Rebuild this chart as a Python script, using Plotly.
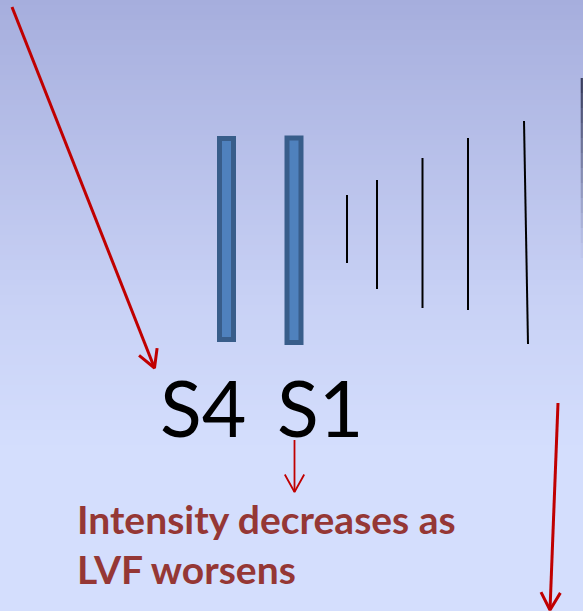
import numpy as np
import plotly.graph_objects as go

W, H = 583, 611

# ---- data ----
bar_labels = ["S4", "S1"]
bar_center = [226.5, 294.0]
bar_top = [138.5, 138.0]
bar_bottom = [339.5, 342.5]

sound_x_top = [347, 377, 422.5, 468, 524]
sound_x_bottom = [347, 377, 422.5, 468, 528]
sound_top = [195, 180, 158, 138, 121]
sound_bottom = [263, 289, 308, 310, 344]

arrow_tail_x = [12, 294.5, 558]
arrow_tail_y = [7, 440, 403]
arrow_tip_x = [154.5, 294.5, 550]
arrow_tip_y = [368, 492, 610]
arrow_width = [3, 1.8, 3]

label_text = ["S4", "S1"]
label_x = [203, 320]
caption_lines = ["Intensity decreases as", "LVF worsens"]

fig = go.Figure()

# background gradient (style)
top_c = np.array([166, 174, 221])
mid_c = np.array([200, 209, 245])
bot_c = np.array([212, 222, 253])
shapes = []
n = 90
for i in range(n):
    y0 = i * 450 / n
    y1 = (i + 1) * 450 / n + 0.6
    t = (y0 + y1) / 2 / 450
    if t < 0.667:
        c = top_c + (mid_c - top_c) * (t / 0.667)
    else:
        c = mid_c + (bot_c - mid_c) * ((t - 0.667) / 0.333)
    c = c.round().astype(int)
    shapes.append(dict(type="rect", xref="paper", yref="y", x0=0, x1=1, y0=y0, y1=y1,
                       fillcolor=f"rgb({c[0]},{c[1]},{c[2]})", line=dict(width=0), layer="below"))
# right edge dark line, fading downward (style)
edge_steps = 12
for i in range(edge_steps):
    y0 = 78 + i * 15
    a = 0.9 * (1 - i / edge_steps) ** 1.3
    shapes.append(dict(type="line", xref="x", yref="y", x0=581.8, x1=581.8, y0=y0, y1=y0 + 15,
                       line=dict(color=f"rgba(45,50,80,{a:.3f})", width=2.2)))

# S4 / S1 bars
fig.add_trace(go.Bar(
    x=bar_center, y=[b - t for t, b in zip(bar_top, bar_bottom)], base=bar_top,
    width=14, marker=dict(color="#4F81BD", line=dict(color="#385D8A", width=5)),
    hoverinfo="skip", showlegend=False))

# sound lines
for xt, xb, yt, yb in zip(sound_x_top, sound_x_bottom, sound_top, sound_bottom):
    fig.add_trace(go.Scatter(x=[xt, xb], y=[yt, yb], mode="lines",
                             line=dict(color="black", width=2), hoverinfo="skip", showlegend=False))

# arrows with open V heads
for tx, ty, hx, hy, w in zip(arrow_tail_x, arrow_tail_y, arrow_tip_x, arrow_tip_y, arrow_width):
    d = np.array([tx - hx, ty - hy], float)
    d /= np.linalg.norm(d)
    L = 20
    ang = np.deg2rad(29)
    pts = []
    for s in (1, -1):
        c, sn = np.cos(s * ang), np.sin(s * ang)
        r = np.array([d[0] * c - d[1] * sn, d[0] * sn + d[1] * c])
        pts.append((hx + L * r[0], hy + L * r[1]))
    xs = [tx, hx, None, pts[0][0], hx, pts[1][0]]
    ys = [ty, hy, None, pts[0][1], hy, pts[1][1]]
    fig.add_trace(go.Scatter(x=xs, y=ys, mode="lines",
                             line=dict(color="#C00000", width=w), hoverinfo="skip", showlegend=False))

ann = []
for t, x in zip(label_text, label_x):
    ann.append(dict(x=x, y=407, xref="x", yref="y", text=t, showarrow=False,
                    xanchor="center", yanchor="middle",
                    font=dict(family="Lato", size=77, color="black")))
for i, t in enumerate(caption_lines):
    ann.append(dict(x=75, y=519 + i * 50, xref="x", yref="y", text=t, showarrow=False,
                    xanchor="left", yanchor="middle",
                    font=dict(family="Lato", size=39, color="#953735", weight="bold")))

fig.update_layout(
    width=W, height=H, margin=dict(l=0, r=0, t=0, b=0),
    plot_bgcolor="rgb(212,222,253)", paper_bgcolor="rgb(212,222,253)",
    xaxis=dict(range=[0, W], visible=False, fixedrange=True),
    yaxis=dict(range=[H, 0], visible=False, fixedrange=True),
    shapes=shapes, annotations=ann, bargap=0, hovermode=False,
)
fig.write_html("out.html", config={"displayModeBar": False, "staticPlot": True},
               post_script="document.body.style.margin='0';document.body.style.overflow='hidden';")
